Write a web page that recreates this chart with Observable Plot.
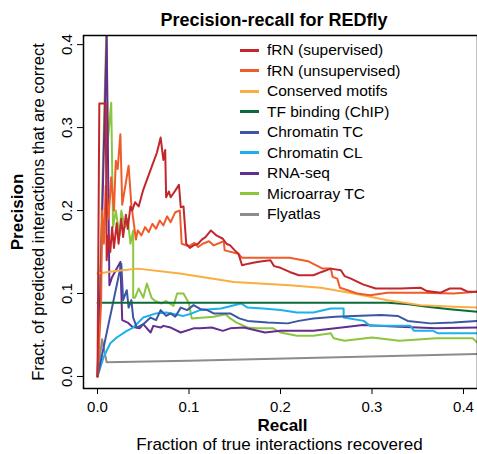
<!DOCTYPE html>
<html><head><meta charset="utf-8">
<script src="https://cdn.jsdelivr.net/npm/d3@7"></script>
<script src="https://cdn.jsdelivr.net/npm/@observablehq/plot@0.6"></script>
<style>
body{margin:0;background:#fff;font-family:"Liberation Sans",Arial,sans-serif;}
#wrap{position:relative;width:477px;height:454px;overflow:hidden;}
#legend{position:absolute;left:240px;top:40px;font-size:15.5px;color:#000;}
.row{display:flex;align-items:center;height:20.5px;white-space:nowrap;}
.sw{width:19px;height:3px;margin-right:8px;}
</style></head><body><div id="wrap"></div><script>
const title = "Precision-recall for REDfly";
const xLabel = "Recall";
const xSubLabel = "Fraction of true interactions recovered";
const yLabel = "Precision";
const ySubLabel = "Fract. of predicted interactions that are correct";
const xTicks = [0, 0.1, 0.2, 0.3, 0.4];
const yTicks = [0, 0.1, 0.2, 0.3, 0.4];

const seriesNames = ["fRN (supervised)", "fRN (unsupervised)", "Conserved motifs", "TF binding (ChIP)",
  "Chromatin TC", "Chromatin CL", "RNA-seq", "Microarray TC", "Flyatlas"];
const seriesColors = ["#C1272D", "#F15A29", "#FBAD3F", "#0B6B38", "#3C55A5", "#1DB1EC", "#662D91", "#8CC63F", "#8C8C8C"];

// [recall, precision]
const fRNsupervised = [[0,0],[0.002,0.329],[0.009,0.329],[0.01,0.14],[0.012,0.17],[0.014,0.15],[0.016,0.18],[0.018,0.155],[0.021,0.185],[0.023,0.16],[0.026,0.19],[0.028,0.168],[0.031,0.195],[0.033,0.178],[0.036,0.205],[0.038,0.2],[0.041,0.21],[0.045,0.205],[0.05,0.225],[0.055,0.24],[0.06,0.255],[0.065,0.27],[0.069,0.288],[0.072,0.261],[0.074,0.273],[0.075,0.216],[0.078,0.223],[0.08,0.216],[0.085,0.224],[0.089,0.231],[0.091,0.204],[0.094,0.205],[0.097,0.16],[0.101,0.155],[0.105,0.158],[0.11,0.16],[0.114,0.165],[0.118,0.168],[0.124,0.176],[0.13,0.17],[0.137,0.166],[0.141,0.16],[0.145,0.158],[0.15,0.152],[0.154,0.148],[0.158,0.134],[0.165,0.136],[0.17,0.137],[0.18,0.139],[0.189,0.14],[0.193,0.133],[0.2,0.131],[0.21,0.126],[0.22,0.122],[0.236,0.122],[0.245,0.126],[0.255,0.13],[0.266,0.128],[0.27,0.121],[0.277,0.118],[0.29,0.111],[0.304,0.106],[0.331,0.106],[0.353,0.107],[0.36,0.103],[0.375,0.101],[0.385,0.106],[0.397,0.106],[0.405,0.102],[0.415,0.102]];
const fRNunsupervised = [[0,0],[0.004,0.09],[0.005,0.2],[0.007,0.16],[0.009,0.23],[0.012,0.19],[0.015,0.24],[0.018,0.2],[0.02,0.26],[0.022,0.25],[0.025,0.292],[0.027,0.207],[0.034,0.254],[0.037,0.207],[0.042,0.165],[0.044,0.176],[0.048,0.17],[0.052,0.18],[0.056,0.174],[0.06,0.184],[0.064,0.178],[0.068,0.188],[0.072,0.182],[0.076,0.193],[0.08,0.186],[0.085,0.198],[0.09,0.2],[0.092,0.16],[0.1,0.157],[0.106,0.161],[0.11,0.156],[0.115,0.16],[0.122,0.163],[0.127,0.158],[0.138,0.163],[0.139,0.152],[0.154,0.148],[0.158,0.143],[0.181,0.143],[0.21,0.143],[0.23,0.139],[0.246,0.13],[0.255,0.13],[0.257,0.12],[0.262,0.118],[0.265,0.107],[0.284,0.1],[0.298,0.098],[0.317,0.101],[0.353,0.101],[0.389,0.1],[0.415,0.102]];
const conservedMotifs = [[0,0.124],[0.02,0.127],[0.044,0.13],[0.09,0.124],[0.149,0.114],[0.21,0.11],[0.244,0.107],[0.28,0.1],[0.317,0.092],[0.353,0.086],[0.39,0.084],[0.415,0.083]];
const tfBinding = [[0,0.089],[0.317,0.089],[0.34,0.087],[0.36,0.084],[0.385,0.081],[0.415,0.078]];
const chromatinTC = [[0,0],[0.026,0.136],[0.028,0.092],[0.032,0.104],[0.034,0.083],[0.037,0.092],[0.039,0.071],[0.043,0.059],[0.05,0.063],[0.058,0.071],[0.064,0.068],[0.069,0.08],[0.075,0.073],[0.08,0.076],[0.085,0.072],[0.091,0.083],[0.098,0.08],[0.105,0.086],[0.113,0.081],[0.12,0.08],[0.127,0.076],[0.145,0.076],[0.155,0.07],[0.164,0.067],[0.186,0.065],[0.208,0.064],[0.22,0.067],[0.236,0.07],[0.26,0.072],[0.28,0.073],[0.31,0.074],[0.328,0.073],[0.339,0.067],[0.364,0.064],[0.389,0.065],[0.415,0.067]];
const chromatinCL = [[0,0],[0.0066,0.023],[0.014,0.04],[0.021,0.047],[0.032,0.055],[0.039,0.059],[0.05,0.071],[0.064,0.076],[0.075,0.077],[0.094,0.073],[0.103,0.076],[0.112,0.08],[0.135,0.082],[0.157,0.088],[0.164,0.083],[0.181,0.082],[0.2,0.08],[0.218,0.077],[0.236,0.077],[0.255,0.082],[0.269,0.082],[0.269,0.071],[0.291,0.067],[0.298,0.061],[0.342,0.061],[0.346,0.055],[0.367,0.055],[0.372,0.052],[0.415,0.052]];
const rnaSeq = [[0,0],[0.003,0.1],[0.01,0.41],[0.013,0.11],[0.016,0.12],[0.025,0.138],[0.027,0.068],[0.033,0.065],[0.038,0.06],[0.046,0.058],[0.05,0.063],[0.054,0.058],[0.058,0.053],[0.061,0.061],[0.069,0.059],[0.072,0.061],[0.08,0.059],[0.091,0.053],[0.105,0.058],[0.112,0.058],[0.125,0.059],[0.137,0.055],[0.145,0.058],[0.16,0.059],[0.183,0.053],[0.2,0.055],[0.236,0.055],[0.26,0.058],[0.29,0.062],[0.33,0.06],[0.37,0.058],[0.415,0.059]];
const microarrayTC = [[0,0],[0.01,0.43],[0.011,0.28],[0.015,0.33],[0.017,0.18],[0.02,0.2],[0.024,0.17],[0.026,0.2],[0.03,0.18],[0.033,0.19],[0.036,0.16],[0.039,0.176],[0.039,0.095],[0.041,0.095],[0.045,0.106],[0.05,0.095],[0.054,0.112],[0.059,0.095],[0.063,0.091],[0.07,0.088],[0.075,0.091],[0.083,0.085],[0.087,0.1],[0.094,0.1],[0.1,0.088],[0.103,0.07],[0.127,0.072],[0.14,0.075],[0.145,0.07],[0.152,0.065],[0.164,0.059],[0.175,0.058],[0.192,0.058],[0.2,0.053],[0.218,0.049],[0.236,0.049],[0.255,0.052],[0.258,0.046],[0.27,0.043],[0.3,0.047],[0.33,0.043],[0.37,0.046],[0.41,0.046],[0.415,0.041]];
const flyatlas = [[0,0],[0.005,0.045],[0.01,0.017],[0.1,0.019],[0.415,0.027]];

const seriesData = [fRNsupervised, fRNunsupervised, conservedMotifs, tfBinding, chromatinTC, chromatinCL, rnaSeq, microarrayTC, flyatlas];

// draw last series first so that fRN (supervised) is on top
const table = [];
for (let i = seriesData.length - 1; i >= 0; i--) {
  for (const [r, p] of seriesData[i]) table.push({series: seriesNames[i], recall: r, precision: p});
}

const fmt = d3.format(".1f");
const plot = Plot.plot({
  width: 477, height: 454,
  marginLeft: 83, marginRight: 0, marginTop: 35, marginBottom: 66,
  style: {fontFamily: "'Liberation Sans', Arial, sans-serif", fontSize: "15px", background: "white", color: "black"},
  x: {domain: [-0.0153, 0.4153]},
  y: {domain: [-0.0145, 0.411]},
  color: {domain: seriesNames, range: seriesColors},
  marks: [
    Plot.line(table, {x: "recall", y: "precision", z: "series", stroke: "series", strokeWidth: 2, clip: true}),
    Plot.frame({stroke: "black", strokeWidth: 1.5}),
    Plot.axisX({ticks: xTicks, tickFormat: fmt, tickSize: 6, tickPadding: 6.5, fontSize: 15, label: null}),
    Plot.axisY({ticks: yTicks, tickFormat: fmt, tickSize: 6, tickPadding: 6, tickRotate: -90, fontSize: 15, label: null}),
    Plot.text([title], {frameAnchor: "top", dx: -6.5, dy: -22.5, fontWeight: "bold", fontSize: 18}),
    Plot.text([xLabel], {frameAnchor: "bottom", dx: 2, dy: 42, fontWeight: "bold", fontSize: 17}),
    Plot.text([xSubLabel], {frameAnchor: "bottom", dx: -1, dy: 61, fontSize: 17}),
    Plot.text([yLabel], {frameAnchor: "left", dx: -66, rotate: -90, textAnchor: "middle", fontWeight: "bold", fontSize: 17}),
    Plot.text([ySubLabel], {frameAnchor: "left", dx: -45, rotate: -90, textAnchor: "middle", fontSize: 16.5})
  ]
});

const wrap = document.getElementById("wrap");
wrap.appendChild(plot);
const legend = document.createElement("div");
legend.id = "legend";
seriesNames.forEach((name, i) => {
  const row = document.createElement("div");
  row.className = "row";
  const sw = document.createElement("span");
  sw.className = "sw";
  sw.style.background = seriesColors[i];
  const label = document.createElement("span");
  label.textContent = name;
  row.appendChild(sw);
  row.appendChild(label);
  legend.appendChild(row);
});
wrap.appendChild(legend);
</script></body></html>
